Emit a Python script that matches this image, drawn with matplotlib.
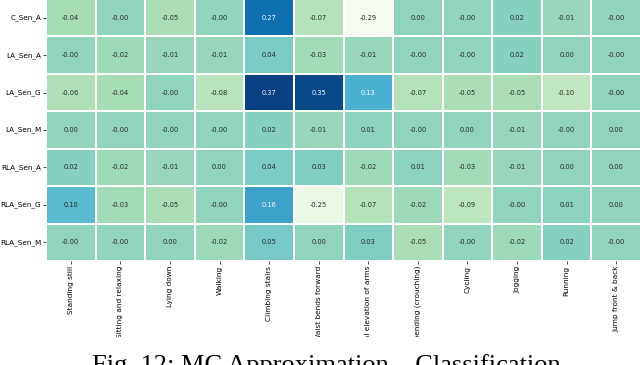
import numpy as np
import pandas as pd
import matplotlib
matplotlib.use('Agg')
import matplotlib.pyplot as plt
import seaborn as sns
from matplotlib.transforms import Bbox, TransformedBbox

# sensors (rows) and activities (columns)
sensors = ['C_Sen_A', 'LA_Sen_A', 'LA_Sen_G', 'LA_Sen_M', 'RLA_Sen_A', 'RLA_Sen_G', 'RLA_Sen_M']
activities = ['Standing still', 'Sitting and relaxing', 'Lying down', 'Walking',
              'Climbing stairs', 'Waist bends forward', 'Frontal elevation of arms',
              'Knees bending (crouching)', 'Cycling', 'Jogging', 'Running', 'Jump front & back']

c_sen_a = [-0.04, -0.00, -0.05, -0.00, 0.27, -0.07, -0.29, 0.00, -0.00, 0.02, -0.01, -0.00]
la_sen_a = [-0.00, -0.02, -0.01, -0.01, 0.04, -0.03, -0.01, -0.00, -0.00, 0.02, 0.00, -0.00]
la_sen_g = [-0.06, -0.04, -0.00, -0.08, 0.37, 0.35, 0.13, -0.07, -0.05, -0.05, -0.10, -0.00]
la_sen_m = [0.00, -0.00, -0.00, -0.00, 0.02, -0.01, 0.01, -0.00, 0.00, -0.01, -0.00, 0.00]
rla_sen_a = [0.02, -0.02, -0.01, 0.00, 0.04, 0.03, -0.02, 0.01, -0.03, -0.01, 0.00, 0.00]
rla_sen_g = [0.10, -0.03, -0.05, -0.00, 0.16, -0.25, -0.07, -0.02, -0.09, -0.00, 0.01, 0.00]
rla_sen_m = [-0.00, -0.00, 0.00, -0.02, 0.05, 0.00, 0.03, -0.05, -0.00, -0.02, 0.02, -0.00]

data = pd.DataFrame([c_sen_a, la_sen_a, la_sen_g, la_sen_m, rla_sen_a, rla_sen_g, rla_sen_m],
                    index=sensors, columns=activities)

fig = plt.figure(figsize=(6.4, 3.65), dpi=100)
ax = fig.add_axes([46/640, 1 - 261/365, 595/640, 262/365])

sns.heatmap(data, ax=ax, cmap='GnBu', annot=True, fmt='.2f', cbar=False,
            linewidths=1.2, linecolor='white', annot_kws={'fontsize': 4.8})

# 0.10 sits right on the light/dark text threshold, original has dark text there
for t in ax.texts:
    if float(t.get_text()) < 0.12:
        t.set_color('.15')

ax.tick_params(axis='both', length=2.5, width=0.5, pad=1)
ax.set_yticklabels(sensors, rotation=0, fontsize=5.2)
ax.set_xticklabels(activities, rotation=90, fontsize=5.3)

# the original figure is cut off just above the caption
clip = TransformedBbox(Bbox([[0, 28/365], [1, 1]]), fig.transFigure)
for lbl in ax.get_xticklabels():
    lbl.set_clip_box(clip)
    lbl.set_clip_on(True)

fig.text(92/640, (365 - 372)/365, 'Fig. 12: MC Approximation \u2013 Classification',
         fontsize=19, family='Liberation Serif', ha='left', va='baseline')

fig.savefig('out.png', dpi=100)
